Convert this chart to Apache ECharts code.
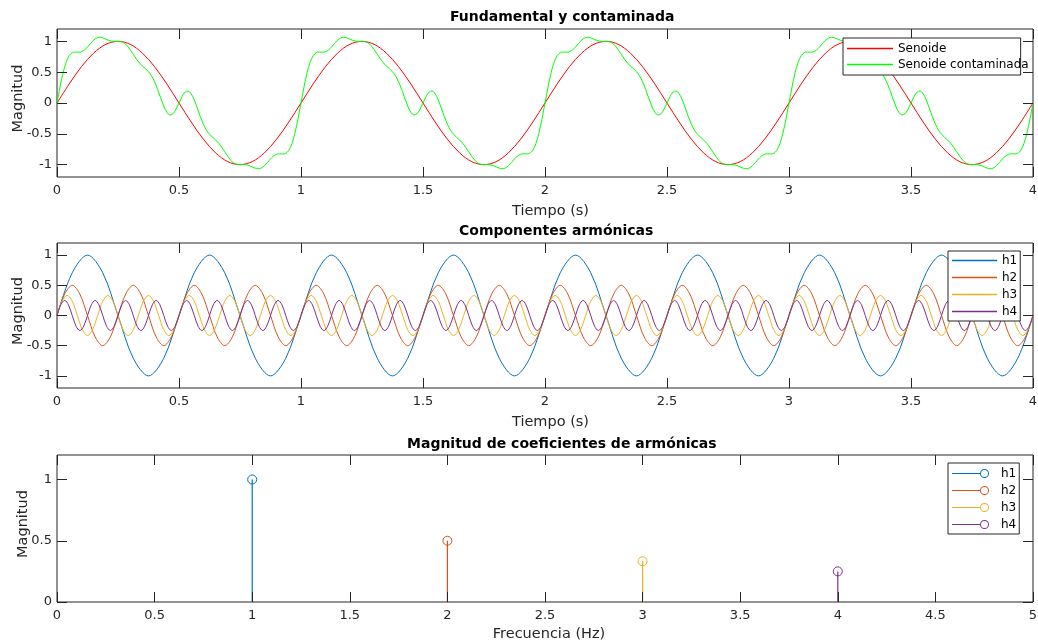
<!DOCTYPE html>
<html><head><meta charset="utf-8">
<script src="https://cdn.jsdelivr.net/npm/echarts@6/dist/echarts.min.js"></script>
<style>html,body{margin:0;padding:0;background:#fff}#c{width:1038px;height:644px}</style>
</head><body><div id="c"></div>
<script>
// ---------- DATA ----------
const timeTicks = [0, 0.5, 1, 1.5, 2, 2.5, 3, 3.5, 4];
const magTicks = [-1, -0.5, 0, 0.5, 1];
const freqTicks = [0, 0.5, 1, 1.5, 2, 2.5, 3, 3.5, 4, 4.5, 5];
const stemMagTicks = [0, 0.5, 1];

// Plot 1: fundamental sine, samples every 0.05 s
const fundamentalDt = 0.05;
const fundamentalValues = [
 0, 0.309, 0.588, 0.809, 0.951, 1, 0.951, 0.809, 0.588, 0.309, 0, -0.309, -0.588, -0.809, -0.951, -1, -0.951, -0.809, -0.588, -0.309,
 0, 0.309, 0.588, 0.809, 0.951, 1, 0.951, 0.809, 0.588, 0.309, 0, -0.309, -0.588, -0.809, -0.951, -1, -0.951, -0.809, -0.588, -0.309,
 0, 0.309, 0.588, 0.809, 0.951, 1, 0.951, 0.809, 0.588, 0.309, 0, -0.309, -0.588, -0.809, -0.951, -1, -0.951, -0.809, -0.588, -0.309,
 0, 0.309, 0.588, 0.809, 0.951, 1, 0.951, 0.809, 0.588, 0.309, 0, -0.309, -0.588, -0.809, -0.951, -1, -0.951, -0.809, -0.588, -0.309,
 0
];

// Plot 1: contaminated sine, samples every 0.0125 s
const contaminatedDt = 0.0125;
const contaminatedValues = [
 0, 0.261, 0.490, 0.661, 0.767, 0.816, 0.826, 0.824, 0.831, 0.859, 0.907, 0.965, 1.019, 1.054, 1.066, 1.057, 1.036, 1.015, 1.002, 0.999,
 1.000, 0.995, 0.974, 0.930, 0.866, 0.791, 0.716, 0.651, 0.599, 0.556, 0.507, 0.440, 0.344, 0.221, 0.082, -0.050, -0.149, -0.194, -0.177, -0.104,
 0, 0.104, 0.177, 0.194, 0.149, 0.050, -0.082, -0.221, -0.344, -0.440, -0.507, -0.556, -0.599, -0.651, -0.716, -0.791, -0.866, -0.930, -0.974, -0.995,
 -1.000, -0.999, -1.002, -1.015, -1.036, -1.057, -1.066, -1.054, -1.019, -0.965, -0.907, -0.859, -0.831, -0.824, -0.826, -0.816, -0.767, -0.661, -0.490, -0.261,
 0, 0.261, 0.490, 0.661, 0.767, 0.816, 0.826, 0.824, 0.831, 0.859, 0.907, 0.965, 1.019, 1.054, 1.066, 1.057, 1.036, 1.015, 1.002, 0.999,
 1.000, 0.995, 0.974, 0.930, 0.866, 0.791, 0.716, 0.651, 0.599, 0.556, 0.507, 0.440, 0.344, 0.221, 0.082, -0.050, -0.149, -0.194, -0.177, -0.104,
 0, 0.104, 0.177, 0.194, 0.149, 0.050, -0.082, -0.221, -0.344, -0.440, -0.507, -0.556, -0.599, -0.651, -0.716, -0.791, -0.866, -0.930, -0.974, -0.995,
 -1.000, -0.999, -1.002, -1.015, -1.036, -1.057, -1.066, -1.054, -1.019, -0.965, -0.907, -0.859, -0.831, -0.824, -0.826, -0.816, -0.767, -0.661, -0.490, -0.261,
 0, 0.261, 0.490, 0.661, 0.767, 0.816, 0.826, 0.824, 0.831, 0.859, 0.907, 0.965, 1.019, 1.054, 1.066, 1.057, 1.036, 1.015, 1.002, 0.999,
 1.000, 0.995, 0.974, 0.930, 0.866, 0.791, 0.716, 0.651, 0.599, 0.556, 0.507, 0.440, 0.344, 0.221, 0.082, -0.050, -0.149, -0.194, -0.177, -0.104,
 0, 0.104, 0.177, 0.194, 0.149, 0.050, -0.082, -0.221, -0.344, -0.440, -0.507, -0.556, -0.599, -0.651, -0.716, -0.791, -0.866, -0.930, -0.974, -0.995,
 -1.000, -0.999, -1.002, -1.015, -1.036, -1.057, -1.066, -1.054, -1.019, -0.965, -0.907, -0.859, -0.831, -0.824, -0.826, -0.816, -0.767, -0.661, -0.490, -0.261,
 0, 0.261, 0.490, 0.661, 0.767, 0.816, 0.826, 0.824, 0.831, 0.859, 0.907, 0.965, 1.019, 1.054, 1.066, 1.057, 1.036, 1.015, 1.002, 0.999,
 1.000, 0.995, 0.974, 0.930, 0.866, 0.791, 0.716, 0.651, 0.599, 0.556, 0.507, 0.440, 0.344, 0.221, 0.082, -0.050, -0.149, -0.194, -0.177, -0.104,
 0, 0.104, 0.177, 0.194, 0.149, 0.050, -0.082, -0.221, -0.344, -0.440, -0.507, -0.556, -0.599, -0.651, -0.716, -0.791, -0.866, -0.930, -0.974, -0.995,
 -1.000, -0.999, -1.002, -1.015, -1.036, -1.057, -1.066, -1.054, -1.019, -0.965, -0.907, -0.859, -0.831, -0.824, -0.826, -0.816, -0.767, -0.661, -0.490, -0.261,
 0
];

// Plot 2: harmonic components (8 samples per period each)
const h1Dt = 0.0625;
const h1Values = [
 0, 0.707, 1, 0.707, 0, -0.707, -1, -0.707,
 0, 0.707, 1, 0.707, 0, -0.707, -1, -0.707,
 0, 0.707, 1, 0.707, 0, -0.707, -1, -0.707,
 0, 0.707, 1, 0.707, 0, -0.707, -1, -0.707,
 0, 0.707, 1, 0.707, 0, -0.707, -1, -0.707,
 0, 0.707, 1, 0.707, 0, -0.707, -1, -0.707,
 0, 0.707, 1, 0.707, 0, -0.707, -1, -0.707,
 0, 0.707, 1, 0.707, 0, -0.707, -1, -0.707,
 0
];
const h2Dt = 0.03125;
const h2Values = [
 0, 0.354, 0.5, 0.354, 0, -0.354, -0.5, -0.354,
 0, 0.354, 0.5, 0.354, 0, -0.354, -0.5, -0.354,
 0, 0.354, 0.5, 0.354, 0, -0.354, -0.5, -0.354,
 0, 0.354, 0.5, 0.354, 0, -0.354, -0.5, -0.354,
 0, 0.354, 0.5, 0.354, 0, -0.354, -0.5, -0.354,
 0, 0.354, 0.5, 0.354, 0, -0.354, -0.5, -0.354,
 0, 0.354, 0.5, 0.354, 0, -0.354, -0.5, -0.354,
 0, 0.354, 0.5, 0.354, 0, -0.354, -0.5, -0.354,
 0, 0.354, 0.5, 0.354, 0, -0.354, -0.5, -0.354,
 0, 0.354, 0.5, 0.354, 0, -0.354, -0.5, -0.354,
 0, 0.354, 0.5, 0.354, 0, -0.354, -0.5, -0.354,
 0, 0.354, 0.5, 0.354, 0, -0.354, -0.5, -0.354,
 0, 0.354, 0.5, 0.354, 0, -0.354, -0.5, -0.354,
 0, 0.354, 0.5, 0.354, 0, -0.354, -0.5, -0.354,
 0, 0.354, 0.5, 0.354, 0, -0.354, -0.5, -0.354,
 0, 0.354, 0.5, 0.354, 0, -0.354, -0.5, -0.354,
 0
];
const h3Dt = 0.0208333333;
const h3Values = [
 0, 0.236, 0.333, 0.236, 0, -0.236, -0.333, -0.236,
 0, 0.236, 0.333, 0.236, 0, -0.236, -0.333, -0.236,
 0, 0.236, 0.333, 0.236, 0, -0.236, -0.333, -0.236,
 0, 0.236, 0.333, 0.236, 0, -0.236, -0.333, -0.236,
 0, 0.236, 0.333, 0.236, 0, -0.236, -0.333, -0.236,
 0, 0.236, 0.333, 0.236, 0, -0.236, -0.333, -0.236,
 0, 0.236, 0.333, 0.236, 0, -0.236, -0.333, -0.236,
 0, 0.236, 0.333, 0.236, 0, -0.236, -0.333, -0.236,
 0, 0.236, 0.333, 0.236, 0, -0.236, -0.333, -0.236,
 0, 0.236, 0.333, 0.236, 0, -0.236, -0.333, -0.236,
 0, 0.236, 0.333, 0.236, 0, -0.236, -0.333, -0.236,
 0, 0.236, 0.333, 0.236, 0, -0.236, -0.333, -0.236,
 0, 0.236, 0.333, 0.236, 0, -0.236, -0.333, -0.236,
 0, 0.236, 0.333, 0.236, 0, -0.236, -0.333, -0.236,
 0, 0.236, 0.333, 0.236, 0, -0.236, -0.333, -0.236,
 0, 0.236, 0.333, 0.236, 0, -0.236, -0.333, -0.236,
 0, 0.236, 0.333, 0.236, 0, -0.236, -0.333, -0.236,
 0, 0.236, 0.333, 0.236, 0, -0.236, -0.333, -0.236,
 0, 0.236, 0.333, 0.236, 0, -0.236, -0.333, -0.236,
 0, 0.236, 0.333, 0.236, 0, -0.236, -0.333, -0.236,
 0, 0.236, 0.333, 0.236, 0, -0.236, -0.333, -0.236,
 0, 0.236, 0.333, 0.236, 0, -0.236, -0.333, -0.236,
 0, 0.236, 0.333, 0.236, 0, -0.236, -0.333, -0.236,
 0, 0.236, 0.333, 0.236, 0, -0.236, -0.333, -0.236,
 0
];
const h4Dt = 0.015625;
const h4Values = [
 0, 0.177, 0.25, 0.177, 0, -0.177, -0.25, -0.177,
 0, 0.177, 0.25, 0.177, 0, -0.177, -0.25, -0.177,
 0, 0.177, 0.25, 0.177, 0, -0.177, -0.25, -0.177,
 0, 0.177, 0.25, 0.177, 0, -0.177, -0.25, -0.177,
 0, 0.177, 0.25, 0.177, 0, -0.177, -0.25, -0.177,
 0, 0.177, 0.25, 0.177, 0, -0.177, -0.25, -0.177,
 0, 0.177, 0.25, 0.177, 0, -0.177, -0.25, -0.177,
 0, 0.177, 0.25, 0.177, 0, -0.177, -0.25, -0.177,
 0, 0.177, 0.25, 0.177, 0, -0.177, -0.25, -0.177,
 0, 0.177, 0.25, 0.177, 0, -0.177, -0.25, -0.177,
 0, 0.177, 0.25, 0.177, 0, -0.177, -0.25, -0.177,
 0, 0.177, 0.25, 0.177, 0, -0.177, -0.25, -0.177,
 0, 0.177, 0.25, 0.177, 0, -0.177, -0.25, -0.177,
 0, 0.177, 0.25, 0.177, 0, -0.177, -0.25, -0.177,
 0, 0.177, 0.25, 0.177, 0, -0.177, -0.25, -0.177,
 0, 0.177, 0.25, 0.177, 0, -0.177, -0.25, -0.177,
 0, 0.177, 0.25, 0.177, 0, -0.177, -0.25, -0.177,
 0, 0.177, 0.25, 0.177, 0, -0.177, -0.25, -0.177,
 0, 0.177, 0.25, 0.177, 0, -0.177, -0.25, -0.177,
 0, 0.177, 0.25, 0.177, 0, -0.177, -0.25, -0.177,
 0, 0.177, 0.25, 0.177, 0, -0.177, -0.25, -0.177,
 0, 0.177, 0.25, 0.177, 0, -0.177, -0.25, -0.177,
 0, 0.177, 0.25, 0.177, 0, -0.177, -0.25, -0.177,
 0, 0.177, 0.25, 0.177, 0, -0.177, -0.25, -0.177,
 0, 0.177, 0.25, 0.177, 0, -0.177, -0.25, -0.177,
 0, 0.177, 0.25, 0.177, 0, -0.177, -0.25, -0.177,
 0, 0.177, 0.25, 0.177, 0, -0.177, -0.25, -0.177,
 0, 0.177, 0.25, 0.177, 0, -0.177, -0.25, -0.177,
 0, 0.177, 0.25, 0.177, 0, -0.177, -0.25, -0.177,
 0, 0.177, 0.25, 0.177, 0, -0.177, -0.25, -0.177,
 0, 0.177, 0.25, 0.177, 0, -0.177, -0.25, -0.177,
 0, 0.177, 0.25, 0.177, 0, -0.177, -0.25, -0.177,
 0
];

// Plot 3: harmonic coefficient magnitudes
const harmonicNames = ['h1', 'h2', 'h3', 'h4'];
const harmonicFreqs = [1, 2, 3, 4];
const harmonicMags = [1, 0.5, 0.333, 0.25];

// ---------- STYLE ----------
const FONT = 'DejaVu Sans';
const AX = '#262626';
const HCOL = ['#0072BD', '#D95319', '#EDB120', '#7E2F8E'];
const LABEL_FS = 14.5;

function toXY(vals, dt) { return vals.map((v, i) => [i * dt, v]); }

function xPair(g, min, max, ticks, name, nameGap, namePadLeft) {
  const tick = { inside: true, length: 10, lineStyle: { color: AX, width: 1 }, customValues: ticks };
  return [
    { type: 'value', gridIndex: g, min, max, position: 'bottom', z: 5,
      name, nameLocation: 'middle', nameGap, nameMoveOverlap: false,
      nameTextStyle: { color: AX, fontSize: LABEL_FS, fontFamily: FONT, padding: [0, 0, 0, namePadLeft] },
      axisLine: { show: false, onZero: false }, splitLine: { show: false }, axisTick: tick,
      axisLabel: { color: AX, fontSize: 13, fontFamily: FONT, margin: 7, customValues: ticks } },
    { type: 'value', gridIndex: g, min, max, position: 'top', z: 5,
      axisLine: { show: false, onZero: false }, splitLine: { show: false }, axisTick: tick, axisLabel: { show: false } }
  ];
}
function yPair(g, min, max, ticks, name, nameGap) {
  const tick = { inside: true, length: 10, lineStyle: { color: AX, width: 1 }, customValues: ticks };
  return [
    { type: 'value', gridIndex: g, min, max, position: 'left', z: 5,
      name, nameLocation: 'middle', nameGap, nameRotate: 90, nameMoveOverlap: false,
      nameTextStyle: { color: AX, fontSize: LABEL_FS, fontFamily: FONT, padding: [0, 0, 0, 9] },
      axisLine: { show: false, onZero: false }, splitLine: { show: false }, axisTick: tick,
      axisLabel: { color: AX, fontSize: 13, fontFamily: FONT, margin: 5, customValues: ticks } },
    { type: 'value', gridIndex: g, min, max, position: 'right', z: 5,
      axisLine: { show: false, onZero: false }, splitLine: { show: false }, axisTick: tick, axisLabel: { show: false } }
  ];
}
const gridBase = { left: 57, width: 976, show: true, borderColor: AX, borderWidth: 1,
  backgroundColor: '#fff', containLabel: false, outerBoundsMode: 'none' };
const legendText = { color: '#000', fontSize: 12, fontFamily: FONT, lineHeight: 13 };
const legendBase = {
  orient: 'vertical', backgroundColor: '#fff', borderColor: AX, borderWidth: 1,
  itemGap: 4, textStyle: legendText, selectedMode: false, z: 10
};

const lineSeries = (name, vals, dt, color, gi) => ({
  type: 'line', name, data: toXY(vals, dt), xAxisIndex: gi * 2, yAxisIndex: gi * 2,
  symbol: 'none', smooth: 0.33, lineStyle: { color, width: 1 }, itemStyle: { color },
  silent: true, z: 3
});

// stem series: names carry a trailing space so the third legend binds to them
const stemSeries = harmonicNames.map((n, k) => ({
  type: 'line', name: n + ' ', xAxisIndex: 4, yAxisIndex: 4,
  data: [{ value: [harmonicFreqs[k], 0], symbol: 'none' }, { value: [harmonicFreqs[k], harmonicMags[k]] }],
  symbol: 'circle', symbolSize: 9, showSymbol: true,
  lineStyle: { color: HCOL[k], width: 1.2 },
  itemStyle: { color: 'rgba(255,255,255,0)', borderColor: HCOL[k], borderWidth: 1 },
  silent: true, z: 3
}));

const stemIcon = 'path://M0,4.5L28,4.5L28,5.5L0,5.5Z M37,5A4.5,4.5,0,1,0,28,5A4.5,4.5,0,1,0,37,5Z M36,5A3.5,3.5,0,1,1,29,5A3.5,3.5,0,1,1,36,5Z';

const titleStyle = { fontFamily: FONT, fontWeight: 'bold', fontSize: 14, color: '#000' };

const option = {
  animation: false,
  backgroundColor: '#fff',
  title: [
    { text: 'Fundamental y contaminada', left: 450, top: 10, padding: 0, textStyle: titleStyle },
    { text: 'Componentes armónicas', left: 459, top: 224, padding: 0, textStyle: titleStyle },
    { text: 'Magnitud de coeficientes de armónicas', left: 407, top: 437, padding: 0, textStyle: titleStyle }
  ],
  grid: [
    Object.assign({ top: 29, height: 148 }, gridBase),
    Object.assign({ top: 243, height: 145 }, gridBase),
    Object.assign({ top: 455, height: 147 }, gridBase)
  ],
  xAxis: [].concat(
    xPair(0, 0, 4, timeTicks, 'Tiempo (s)', 27, 11),
    xPair(1, 0, 4, timeTicks, 'Tiempo (s)', 27, 11),
    xPair(2, 0, 5, freqTicks, 'Frecuencia (Hz)', 25, 8)
  ),
  yAxis: [].concat(
    yPair(0, -1.2, 1.2, magTicks, 'Magnitud', 31),
    yPair(1, -1.2, 1.2, magTicks, 'Magnitud', 31),
    yPair(2, 0, 1.2, stemMagTicks, 'Magnitud', 26)
  ),
  legend: [
    Object.assign({}, legendBase, { left: 843, top: 38, padding: [4, -8, 4, 4], itemGap: 3,
      itemWidth: 46, itemHeight: 1.3, icon: 'rect',
      data: ['Senoide', 'Senoide contaminada'] }),
    Object.assign({}, legendBase, { left: 948, top: 251, padding: [3, 3, 3, 4], itemGap: 4,
      itemWidth: 45, itemHeight: 1.3, icon: 'rect',
      data: ['h1', 'h2', 'h3', 'h4'] }),
    Object.assign({}, legendBase, { left: 948, top: 463, padding: [4, 3, 3, 4], itemGap: 4,
      itemWidth: 37, itemHeight: 9, icon: stemIcon,
      textStyle: Object.assign({}, legendText, { padding: [0, 0, 0, 7] }),
      data: harmonicNames.map((n, k) => ({ name: n + ' ', itemStyle: { color: HCOL[k], borderWidth: 0 } })),
      formatter: n => n.trim() })
  ],
  series: [
    lineSeries('Senoide', fundamentalValues, fundamentalDt, '#ff0000', 0),
    lineSeries('Senoide contaminada', contaminatedValues, contaminatedDt, '#00ff00', 0),
    lineSeries('h1', h1Values, h1Dt, HCOL[0], 1),
    lineSeries('h2', h2Values, h2Dt, HCOL[1], 1),
    lineSeries('h3', h3Values, h3Dt, HCOL[2], 1),
    lineSeries('h4', h4Values, h4Dt, HCOL[3], 1)
  ].concat(stemSeries)
};

const chart = echarts.init(document.getElementById('c'), null, { renderer: 'canvas' });
chart.setOption(option);
</script></body></html>
